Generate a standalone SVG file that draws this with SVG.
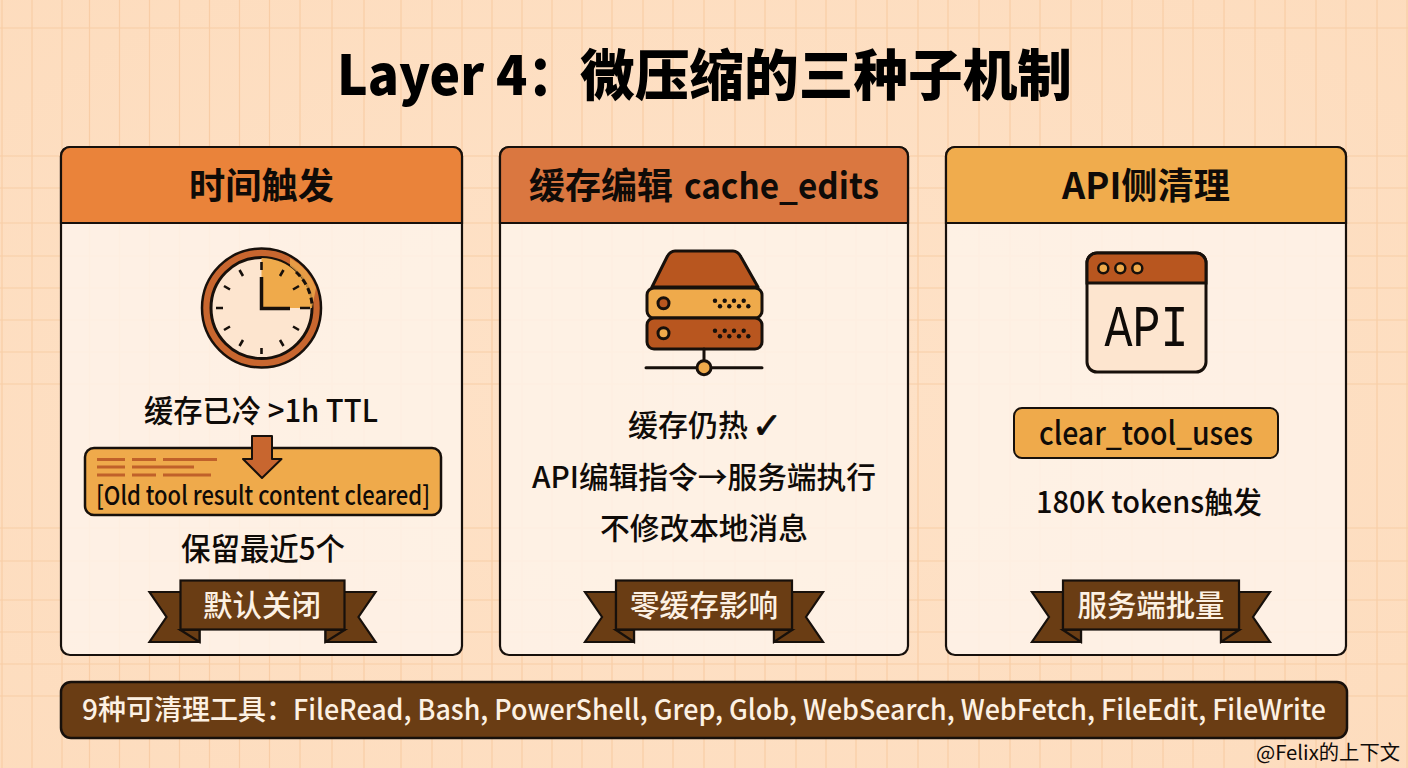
<svg xmlns="http://www.w3.org/2000/svg" width="1408" height="768" viewBox="0 0 1408 768">
<style>
text{font-family:"Noto Sans CJK SC","Noto Sans",sans-serif;fill:#0f0b08;text-anchor:middle;font-weight:500}
.s{text-anchor:start}
.t{font-size:55px;font-weight:900;fill:#000}
.f{font-size:28px;fill:#fdf1e3}
.h{font-size:36px;font-weight:700}
.b{font-size:31px}
.r{font-size:30px;fill:#fdf1e3}
.k{stroke:#17100b;stroke-width:2.5;stroke-linejoin:round}
.card{fill:#fef3e8;fill-opacity:.88;stroke:#17100b;stroke-width:2.2}
.rib{fill:#6a3d14;stroke:#17100b;stroke-width:2.2;stroke-linejoin:miter}
.grid line{stroke:#f8cda6;stroke-width:1.2}
.tick{stroke:#17100b;stroke-width:2.6;fill:none}
.bar{stroke:#c0612a;stroke-width:3}
</style>
<defs>
<radialGradient id="bg" cx="50%" cy="50%" r="75%"><stop offset="0" stop-color="#fee2c8"/><stop offset="1" stop-color="#fddcbd"/></radialGradient>
<g id="ribbon">
<path class="rib" d="M-113,-13H-81V25H-63V37H-113L-96,12Z"/>
<path class="rib" d="M113,-13H81V25H63V37H113L96,12Z"/>
<path class="rib" d="M-82,25 L-63,37V25Z"/>
<path class="rib" d="M82,25 L63,37V25Z"/>
<rect class="rib" x="-82" y="-24.500" width="164" height="49"/>
</g>
<g id="ribbon2">
<path class="rib" d="M-119,-13H-88V25H-70V37H-119L-102,12Z"/>
<path class="rib" d="M119,-13H88V25H70V37H119L102,12Z"/>
<path class="rib" d="M-88,25 L-70,37V25Z"/>
<path class="rib" d="M88,25 L70,37V25Z"/>
<rect class="rib" x="-88" y="-24.500" width="176" height="49"/>
</g>
</defs>
<rect width="1408" height="768" fill="url(#bg)"/>
<g class="grid">
<line x1="0" x2="1408" y1="28" y2="28"/><line x1="0" x2="1408" y1="156" y2="156"/><line x1="0" x2="1408" y1="188" y2="188"/><line x1="0" x2="1408" y1="223" y2="223"/><line x1="0" x2="1408" y1="256" y2="256"/><line x1="0" x2="1408" y1="288" y2="288"/><line x1="0" x2="1408" y1="320" y2="320"/><line x1="0" x2="1408" y1="352" y2="352"/><line x1="0" x2="1408" y1="384" y2="384"/><line x1="0" x2="1408" y1="528" y2="528"/><line x1="0" x2="1408" y1="561" y2="561"/><line x1="0" x2="1408" y1="600" y2="600"/><line x1="0" x2="1408" y1="632" y2="632"/><line x1="0" x2="1408" y1="664" y2="664"/><line x1="0" x2="1408" y1="696" y2="696"/>
<path d="M2,0V768M32,0V768M62,0V768M89.500,0V768M119.500,0V768M149.500,0V768M179.500,0V768M209.500,0V768M239.500,0V768M269.500,0V768M300,0V768M332,0V768M364,0V768M401,0V768M432,0V768M462,0V768M492,0V768M522,0V768M552,0V768M582,0V768M612,0V768M643,0V768M673,0V768M704,0V768M735,0V768M765,0V768M796,0V768M826,0V768M856,0V768M887,0V768M918,0V768M948,0V768M979,0V768M1010,0V768M1040,0V768M1071,0V768M1102,0V768M1132,0V768M1163,0V768M1193,0V768M1224,0V768M1255,0V768M1285,0V768M1316,0V768M1346,0V768M1377,0V768M1407,0V768" fill="none" stroke="#f8cda6" stroke-width="1.2"/>
</g>
<g id="title">
<text class="t s" x="337" y="95" textLength="242" lengthAdjust="spacingAndGlyphs">Layer 4：</text>
<text class="t s" x="580" y="95" textLength="492" lengthAdjust="spacingAndGlyphs">微压缩的三种子机制</text>
</g>

<g id="card-time">
<rect class="card" x="61" y="147" width="401" height="508" rx="9"/>
<path d="M61,223V156a9,9 0 0 1 9,-9H453a9,9 0 0 1 9,9V223Z" fill="#ea833a" stroke="#17100b" stroke-width="2.2"/>
<text class="h" x="261.500" y="199" textLength="145" lengthAdjust="spacingAndGlyphs">时间触发</text>
<circle cx="261.500" cy="308" r="59.500" fill="#c8662f" stroke="#17100b" stroke-width="2.500"/>
<circle cx="261.500" cy="308" r="50.500" fill="#fde5cf" stroke="#17100b" stroke-width="3"/>
<path d="M261.500,308V258A50,50 0 0 1 311.500,308Z" fill="#efaa4b"/>
<path d="M290,258A58,58 0 0 1 316,288L312,308H311A50,50 0 0 0 290,266Z" fill="#efaa4b" opacity=".8"/>
<path d="M296,272A50,50 0 0 1 312,304" fill="none" stroke="#17100b" stroke-width="3" stroke-dasharray="6 4"/>
<path class="tick" d="M261.500,262V270M261.500,348V354M216,308H223M300,308H310M239.500,270L243,276M283.500,270L280,276M224,286L230,289.500M299,286L293,289.500M224,330L230,326.500M299,330L293,326.500M239.500,346L243,340M283.500,346L280,340"/>
<path d="M261.500,277V308.500H290" fill="none" stroke="#17100b" stroke-width="3.500"/>
<text class="b" x="261" y="422" textLength="234" lengthAdjust="spacingAndGlyphs">缓存已冷 &gt;1h TTL</text>
<rect class="k" x="85" y="448" width="356" height="67" rx="9" fill="#efaa4b"/>
<path class="bar" d="M97,459.500H125M132,459.500H156M163,459.500H217M97,467H125M132,467H194M97,475H125M132,475H156M163,475H211"/>
<path class="k" d="M252,436H272V459H281.500L262,478L243,459H252Z" fill="#c8662f" style="stroke-width:2"/>
<text x="263" y="505" textLength="334" lengthAdjust="spacingAndGlyphs" style="font-size:26px">[Old tool result content cleared]</text>
<text class="b" x="263" y="560" textLength="164" lengthAdjust="spacingAndGlyphs">保留最近5个</text>
<use href="#ribbon" x="262.500" y="605"/>
<text class="r" x="262" y="616" textLength="118" lengthAdjust="spacingAndGlyphs">默认关闭</text>
</g>

<g id="card-cache">
<rect class="card" x="500" y="147" width="408" height="508" rx="9"/>
<path d="M500,223V156a9,9 0 0 1 9,-9H899a9,9 0 0 1 9,9V223Z" fill="#da7740" stroke="#17100b" stroke-width="2.2"/>
<text class="h s" x="529" y="199">缓存编辑</text>
<text class="h s" x="684" y="199" textLength="195" lengthAdjust="spacingAndGlyphs">cache_edits</text>
<path class="k" d="M652,287L667,257Q670,251 675,251H733Q738,251 741,257L758,287Z" fill="#b8561f" style="stroke-width:3"/>
<rect class="k" x="647" y="288" width="115" height="30" rx="7" fill="#efaa4b" style="stroke-width:3"/>
<rect class="k" x="647" y="318" width="115" height="31" rx="7" fill="#b8561f" style="stroke-width:3"/>
<circle cx="663.500" cy="303.300" r="5.500" fill="#b8561f" stroke="#17100b" stroke-width="3"/>
<circle cx="663.500" cy="333.300" r="5.500" fill="#efaa4b" stroke="#17100b" stroke-width="3"/>
<g fill="#17100b">
<circle cx="715" cy="300.700" r="2.200"/><circle cx="724.700" cy="300.700" r="2.200"/><circle cx="734" cy="300.700" r="2.200"/><circle cx="743.700" cy="300.700" r="2.200"/>
<circle cx="720" cy="306.300" r="2.200"/><circle cx="729.300" cy="306.300" r="2.200"/><circle cx="739" cy="306.300" r="2.200"/><circle cx="748.300" cy="306.300" r="2.200"/>
<circle cx="715" cy="330.700" r="2.200"/><circle cx="724.700" cy="330.700" r="2.200"/><circle cx="734" cy="330.700" r="2.200"/><circle cx="743.700" cy="330.700" r="2.200"/>
<circle cx="720" cy="336.300" r="2.200"/><circle cx="729.300" cy="336.300" r="2.200"/><circle cx="739" cy="336.300" r="2.200"/><circle cx="748.300" cy="336.300" r="2.200"/>
</g>
<path d="M704,349V362M646,367.700H762" stroke="#17100b" stroke-width="3" stroke-linecap="round" fill="none"/>
<circle cx="704" cy="367.700" r="7" fill="#efaa4b" stroke="#17100b" stroke-width="3"/>
<text class="b s" x="628" y="436" style="font-size:30px">缓存仍热</text>
<text class="s" x="752" y="438" style="font-size:36px;font-weight:700;font-family:'DejaVu Sans',sans-serif;stroke:#0f0b08;stroke-width:.8">✓</text>
<text class="b" x="704" y="488" textLength="344" lengthAdjust="spacingAndGlyphs" style="font-size:30px">API编辑指令→服务端执行</text>
<text class="b" x="704" y="539" textLength="208" lengthAdjust="spacingAndGlyphs" style="font-size:30px">不修改本地消息</text>
<use href="#ribbon2" x="704" y="605"/>
<text class="r" x="704" y="616" textLength="148" lengthAdjust="spacingAndGlyphs">零缓存影响</text>
</g>

<g id="card-api">
<rect class="card" x="946" y="147" width="400" height="508" rx="9"/>
<path d="M946,223V156a9,9 0 0 1 9,-9H1337a9,9 0 0 1 9,9V223Z" fill="#f0ac4d" stroke="#17100b" stroke-width="2.2"/>
<text class="h" x="1146" y="199" textLength="168" lengthAdjust="spacingAndGlyphs">API侧清理</text>
<rect x="1087" y="253" width="119" height="119" rx="10" fill="#fde5cf" stroke="#17100b" stroke-width="3"/>
<path d="M1087,283V263a10,10 0 0 1 10,-10H1196a10,10 0 0 1 10,10V283Z" fill="#b8561f" stroke="#17100b" stroke-width="3"/>
<circle cx="1103.300" cy="268.300" r="5" fill="#efaa4b" stroke="#17100b" stroke-width="2.500"/>
<circle cx="1120.300" cy="268.300" r="5" fill="#efaa4b" stroke="#17100b" stroke-width="2.500"/>
<circle cx="1137.300" cy="268.300" r="5" fill="#efaa4b" stroke="#17100b" stroke-width="2.500"/>
<text x="1146.500" y="346" textLength="84" lengthAdjust="spacingAndGlyphs" style="font-family:'Liberation Mono',monospace;font-size:60px;font-weight:400">API</text>
<rect class="k" x="1014" y="408" width="264" height="50" rx="8" fill="#efaa4b" style="stroke-width:2"/>
<text x="1146" y="445" textLength="214" lengthAdjust="spacingAndGlyphs" style="font-size:32px">clear_tool_uses</text>
<text class="b" x="1149" y="513" textLength="226" lengthAdjust="spacingAndGlyphs" style="font-size:30px">180K tokens触发</text>
<use href="#ribbon2" x="1151" y="605"/>
<text class="r" x="1151" y="616" textLength="147" lengthAdjust="spacingAndGlyphs">服务端批量</text>
</g>

<g id="footer">
<rect x="61" y="682" width="1286" height="56" rx="10" fill="#6a3d14" stroke="#17100b" stroke-width="2.500"/>
<text class="f s" x="82" y="720">9种可清理工具：</text>
<text class="f s" x="293" y="720" textLength="1033" lengthAdjust="spacingAndGlyphs">FileRead, Bash, PowerShell, Grep, Glob, WebSearch, WebFetch, FileEdit, FileWrite</text>
</g>
<g id="watermark"><text x="1328" y="760" textLength="144" lengthAdjust="spacingAndGlyphs" style="font-size:20px;font-weight:400">@Felix的上下文</text></g>
</svg>
